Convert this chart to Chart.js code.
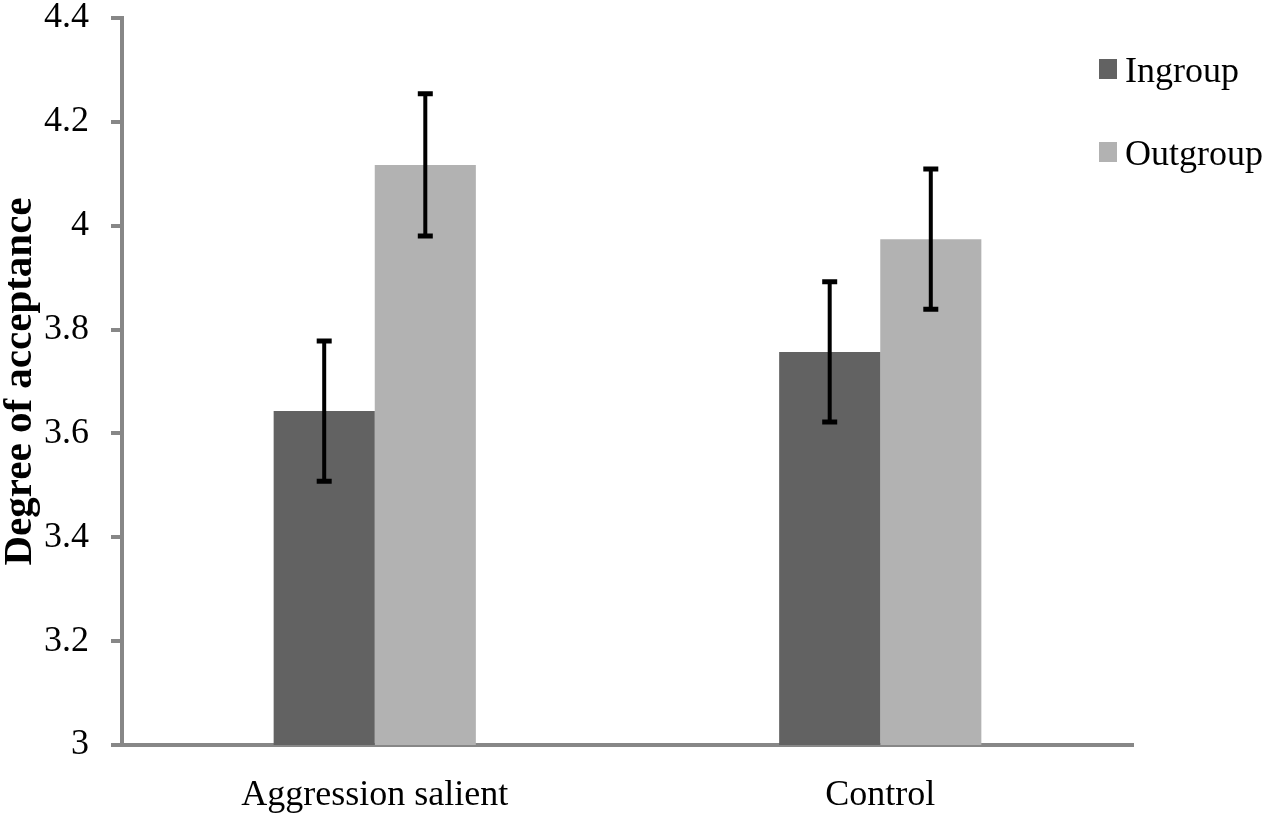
<!DOCTYPE html>
<html>
<head>
<meta charset="utf-8">
<script src="https://cdn.jsdelivr.net/npm/chart.js@4"></script>
<style>
html,body{margin:0;padding:0;background:#fff;}
#wrap{width:1267px;height:818px;position:relative;}
</style>
</head>
<body>
<div id="wrap"><canvas id="c" width="1267" height="818"></canvas></div>
<script>
const categories = ["Aggression salient", "Control"];
const seriesNames = ["Ingroup", "Outgroup"];
const ingroupValues = [3.643, 3.757];
const outgroupValues = [4.117, 3.974];
const ingroupErrors = [0.135, 0.135];
const outgroupErrors = [0.137, 0.135];
const yTickValues = [3, 3.2, 3.4, 3.6, 3.8, 4, 4.2, 4.4];
const yTickLabels = ["3", "3.2", "3.4", "3.6", "3.8", "4", "4.2", "4.4"];
const yTitle = "Degree of acceptance";

const FONT = "'Liberation Serif', 'Times New Roman', serif";
const colors = ["#626262", "#b2b2b2"];
const errors = [ingroupErrors, outgroupErrors];

const errorBarPlugin = {
  id: 'errorBars',
  afterDatasetsDraw(chart) {
    const ctx = chart.ctx;
    const ys = chart.scales.y;
    ctx.save();
    ctx.strokeStyle = '#000';
    chart.data.datasets.forEach((ds, di) => {
      const meta = chart.getDatasetMeta(di);
      meta.data.forEach((bar, i) => {
        const v = ds.data[i], e = errors[di][i];
        const x = bar.x;
        const yTop = ys.getPixelForValue(v + e);
        const yBot = ys.getPixelForValue(v - e);
        ctx.lineWidth = 4;
        ctx.beginPath();
        ctx.moveTo(x, yTop); ctx.lineTo(x, yBot);
        ctx.stroke();
        ctx.lineWidth = 5;
        ctx.beginPath();
        ctx.moveTo(x - 7.5, yTop); ctx.lineTo(x + 7.5, yTop);
        ctx.moveTo(x - 7.5, yBot); ctx.lineTo(x + 7.5, yBot);
        ctx.stroke();
      });
    });
    ctx.restore();
  }
};

const legendPlugin = {
  id: 'customLegend',
  afterDraw(chart) {
    const ctx = chart.ctx;
    ctx.save();
    ctx.font = "36px " + FONT;
    ctx.textBaseline = 'alphabetic';
    ctx.textAlign = 'left';
    const rows = [{sq: 59, base: 82}, {sq: 142, base: 165}];
    chart.data.datasets.forEach((ds, di) => {
      ctx.fillStyle = ds.backgroundColor;
      ctx.fillRect(1099, rows[di].sq, 18, 20);
      ctx.fillStyle = '#000';
      ctx.fillText(ds.label, 1125, rows[di].base);
    });
    ctx.restore();
  }
};

new Chart(document.getElementById('c'), {
  type: 'bar',
  data: {
    labels: categories,
    datasets: [
      { label: seriesNames[0], data: ingroupValues, backgroundColor: colors[0], borderWidth: 0 },
      { label: seriesNames[1], data: outgroupValues, backgroundColor: colors[1], borderWidth: 0 }
    ]
  },
  options: {
    responsive: false,
    animation: false,
    devicePixelRatio: 1,
    layout: { padding: { left: 0, right: 134, top: 18, bottom: 0 } },
    datasets: { bar: { categoryPercentage: 0.4, barPercentage: 1.0 } },
    plugins: { legend: { display: false }, tooltip: { enabled: false } },
    scales: {
      x: {
        grid: { display: true, drawOnChartArea: false, drawTicks: false },
        border: { display: true, color: '#878787', width: 4 },
        ticks: { color: '#000', font: { family: FONT, size: 36, lineHeight: 1 }, padding: 33, maxRotation: 0 },
        afterFit(s) { s.height = 73; s.paddingLeft = 0; s.paddingRight = 0; }
      },
      y: {
        min: 3, max: 4.4,
        afterBuildTicks(s) { s.ticks = yTickValues.map(v => ({ value: v })); },
        grid: { display: true, drawOnChartArea: false, drawTicks: true, tickLength: 11, color: '#878787', lineWidth: 4 },
        border: { display: true, color: '#878787', width: 4 },
        ticks: {
          color: '#000', font: { family: FONT, size: 36, lineHeight: 1 }, padding: 22,
          callback(v, i) { return yTickLabels[i]; }
        },
        title: { display: true, text: yTitle, color: '#000', font: { family: FONT, size: 41, weight: 'bold', lineHeight: 1 }, padding: 0 },
        afterFit(s) { s.width = 122; s.paddingTop = 0; s.paddingBottom = 0; }
      }
    }
  },
  plugins: [errorBarPlugin, legendPlugin]
});
</script>
</body>
</html>
